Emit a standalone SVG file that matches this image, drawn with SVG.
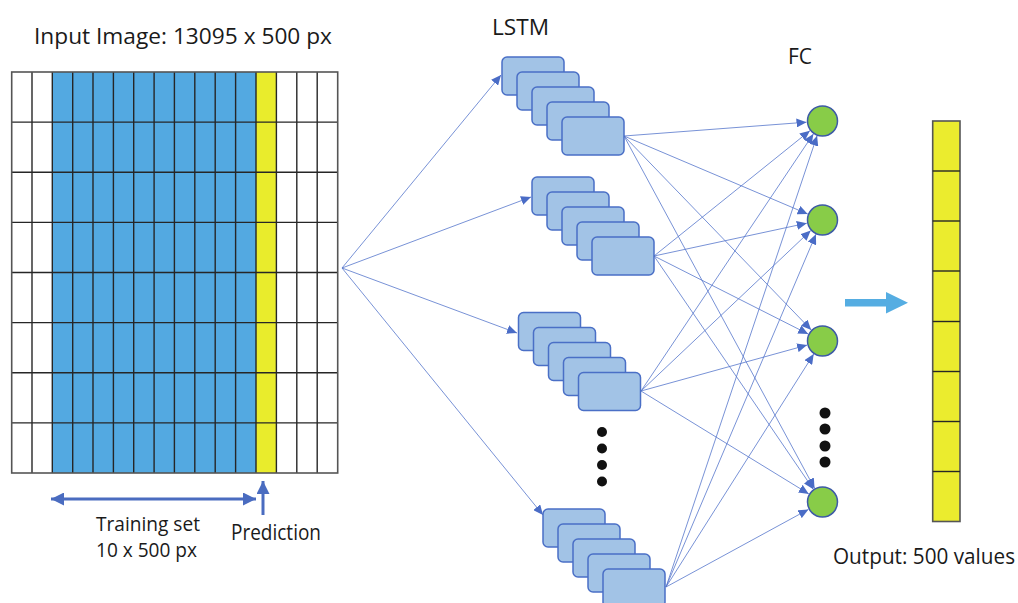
<svg xmlns="http://www.w3.org/2000/svg" width="1018" height="603" viewBox="0 0 1018 603">
  <style>
    .txt { font-family: "Open Sans", "Liberation Sans", sans-serif; font-size: 21px; fill: #1a1a1a; }
    .small { font-size: 20px; }
    .cell { stroke: #262626; stroke-width: 1.4; }
    .blank { fill: #ffffff; }
    .train { fill: #53a9e1; }
    .pred { fill: #e9ec2c; }
    .cellbox { fill: #a2c3e6; stroke: #4a6fc6; stroke-width: 1.5; }
    .fc { fill: #88cc48; stroke: #3d5aa6; stroke-width: 1.5; }
    .link { stroke: #5576cc; stroke-width: 0.8; fill: none; marker-end: url(#tip); }
    .dot { fill: #111111; }
    .bigarrow { stroke: #4a6cc0; stroke-width: 3; fill: none; }
  </style>
  <defs>
    <marker id="tip" markerUnits="userSpaceOnUse" markerWidth="11" markerHeight="9" refX="10" refY="4.5" orient="auto">
      <path d="M0,0 L10,4.5 L0,9 Z" fill="#4a6cc6"/>
    </marker>
    <marker id="head" markerUnits="userSpaceOnUse" markerWidth="14" markerHeight="13" refX="13" refY="6.5" orient="auto-start-reverse">
      <path d="M0,0 L13,6.5 L0,13 Z" fill="#4a6cc0"/>
    </marker>
    <g id="stack">
      <rect class="cellbox" x="0" y="0" width="62" height="38" rx="5"/>
      <rect class="cellbox" x="15" y="15" width="62" height="38" rx="5"/>
      <rect class="cellbox" x="30" y="30" width="62" height="38" rx="5"/>
      <rect class="cellbox" x="45" y="45" width="62" height="38" rx="5"/>
      <rect class="cellbox" x="60" y="60" width="62" height="38" rx="5"/>
    </g>
  </defs>

  <rect width="1018" height="603" fill="#ffffff"/>

  <!-- input image grid: 16 columns x 8 rows -->
  <g id="input-image">
    <rect class="blank" x="11.7" y="72" width="40.6" height="401"/>
    <rect class="train" x="52.3" y="72" width="203.7" height="401"/>
    <rect class="pred" x="256" y="72" width="20.4" height="401"/>
    <rect class="blank" x="276.4" y="72" width="61.3" height="401"/>
    <g class="cell">
      <line x1="32" y1="72" x2="32" y2="473"/>
      <line x1="52.3" y1="72" x2="52.3" y2="473"/>
      <line x1="72.7" y1="72" x2="72.7" y2="473"/>
      <line x1="93" y1="72" x2="93" y2="473"/>
      <line x1="113.4" y1="72" x2="113.4" y2="473"/>
      <line x1="133.7" y1="72" x2="133.7" y2="473"/>
      <line x1="154.1" y1="72" x2="154.1" y2="473"/>
      <line x1="174.4" y1="72" x2="174.4" y2="473"/>
      <line x1="194.8" y1="72" x2="194.8" y2="473"/>
      <line x1="215.2" y1="72" x2="215.2" y2="473"/>
      <line x1="235.6" y1="72" x2="235.6" y2="473"/>
      <line x1="256" y1="72" x2="256" y2="473"/>
      <line x1="276.4" y1="72" x2="276.4" y2="473"/>
      <line x1="296.8" y1="72" x2="296.8" y2="473"/>
      <line x1="317.2" y1="72" x2="317.2" y2="473"/>
      <line x1="11.7" y1="122.1" x2="337.7" y2="122.1"/>
      <line x1="11.7" y1="172.2" x2="337.7" y2="172.2"/>
      <line x1="11.7" y1="222.4" x2="337.7" y2="222.4"/>
      <line x1="11.7" y1="272.5" x2="337.7" y2="272.5"/>
      <line x1="11.7" y1="322.6" x2="337.7" y2="322.6"/>
      <line x1="11.7" y1="372.8" x2="337.7" y2="372.8"/>
      <line x1="11.7" y1="422.9" x2="337.7" y2="422.9"/>
    </g>
    <rect x="11.7" y="72" width="326" height="401" fill="none" stroke="#555555" stroke-width="1.6"/>
    <text class="txt" x="34" y="44" textLength="298" lengthAdjust="spacingAndGlyphs">Input Image: 13095 x 500 px</text>
  </g>

  <!-- training span and prediction marker -->
  <g id="training-span">
    <line class="bigarrow" x1="51" y1="499" x2="256" y2="499" marker-start="url(#head)" marker-end="url(#head)"/>
    <text class="txt small" x="96" y="531" textLength="104" lengthAdjust="spacingAndGlyphs">Training set</text>
    <text class="txt small" x="96" y="557" textLength="101" lengthAdjust="spacingAndGlyphs">10 x 500 px</text>
  </g>
  <g id="prediction">
    <line class="bigarrow" x1="263" y1="515" x2="263" y2="481" marker-end="url(#head)"/>
    <text class="txt" x="231" y="540" textLength="90" lengthAdjust="spacingAndGlyphs">Prediction</text>
  </g>

  <!-- connectors -->
  <g id="connectors">
    <line class="link" x1="342" y1="268" x2="501" y2="75"/>
    <line class="link" x1="342" y1="268" x2="531" y2="197"/>
    <line class="link" x1="342" y1="268" x2="517" y2="333"/>
    <line class="link" x1="342" y1="268" x2="543" y2="515"/>

    <line class="link" x1="624" y1="136" x2="806.5" y2="122.2"/>
    <line class="link" x1="624" y1="136" x2="807.7" y2="214"/>
    <line class="link" x1="624" y1="136" x2="811.2" y2="329.9"/>
    <line class="link" x1="624" y1="136" x2="814.6" y2="488.4"/>

    <line class="link" x1="654" y1="256" x2="809.9" y2="130.7"/>
    <line class="link" x1="654" y1="256" x2="806.8" y2="223.2"/>
    <line class="link" x1="654" y1="256" x2="808.2" y2="334"/>
    <line class="link" x1="654" y1="256" x2="813.3" y2="489.2"/>

    <line class="link" x1="641" y1="391" x2="813.4" y2="133.9"/>
    <line class="link" x1="641" y1="391" x2="810.7" y2="230.6"/>
    <line class="link" x1="641" y1="391" x2="807.1" y2="345.1"/>
    <line class="link" x1="641" y1="391" x2="808.8" y2="493.9"/>

    <line class="link" x1="666" y1="587" x2="817.1" y2="135.7"/>
    <line class="link" x1="666" y1="587" x2="815.9" y2="234.3"/>
    <line class="link" x1="666" y1="587" x2="813.7" y2="354.1"/>
    <line class="link" x1="666" y1="587" x2="808.4" y2="509.4"/>
  </g>

  <!-- LSTM layer -->
  <text class="txt" x="492" y="35" textLength="57" lengthAdjust="spacingAndGlyphs">LSTM</text>
  <g id="lstm-1"><use href="#stack" x="502" y="57"/></g>
  <g id="lstm-2"><use href="#stack" x="532" y="177"/></g>
  <g id="lstm-3"><use href="#stack" x="518.5" y="312.5"/></g>
  <g id="lstm-4"><use href="#stack" x="543" y="509"/></g>
  <g id="lstm-ellipsis">
    <circle class="dot" cx="602" cy="432" r="5"/>
    <circle class="dot" cx="602" cy="448.5" r="5"/>
    <circle class="dot" cx="602" cy="465" r="5"/>
    <circle class="dot" cx="602" cy="481.5" r="5"/>
  </g>

  <!-- fully connected layer -->
  <text class="txt" x="788" y="64" textLength="24" lengthAdjust="spacingAndGlyphs">FC</text>
  <g id="fc-1"><circle class="fc" cx="822.5" cy="121" r="15"/></g>
  <g id="fc-2"><circle class="fc" cx="822.5" cy="220" r="15"/></g>
  <g id="fc-3"><circle class="fc" cx="822.5" cy="341" r="15"/></g>
  <g id="fc-4"><circle class="fc" cx="822.5" cy="502" r="15"/></g>
  <g id="fc-ellipsis">
    <circle class="dot" cx="825" cy="413" r="5.5"/>
    <circle class="dot" cx="825" cy="429" r="5.5"/>
    <circle class="dot" cx="825" cy="446" r="5.5"/>
    <circle class="dot" cx="825" cy="462" r="5.5"/>
  </g>

  <!-- flow arrow to output -->
  <g id="flow-arrow">
    <polygon points="845,299 886,299 886,292 908,302.7 886,313.5 886,306.5 845,306.5" fill="#55ade2"/>
  </g>

  <!-- output vector -->
  <g id="output">
    <rect x="932.7" y="121" width="27.3" height="400.5" fill="#ebec2e" stroke="#555555" stroke-width="1.6"/>
    <g class="cell">
      <line x1="932.7" y1="171" x2="960" y2="171"/>
      <line x1="932.7" y1="221" x2="960" y2="221"/>
      <line x1="932.7" y1="271" x2="960" y2="271"/>
      <line x1="932.7" y1="321.5" x2="960" y2="321.5"/>
      <line x1="932.7" y1="371.5" x2="960" y2="371.5"/>
      <line x1="932.7" y1="421.5" x2="960" y2="421.5"/>
      <line x1="932.7" y1="471.5" x2="960" y2="471.5"/>
    </g>
    <text class="txt" x="833" y="564" textLength="182" lengthAdjust="spacingAndGlyphs">Output: 500 values</text>
  </g>
</svg>
